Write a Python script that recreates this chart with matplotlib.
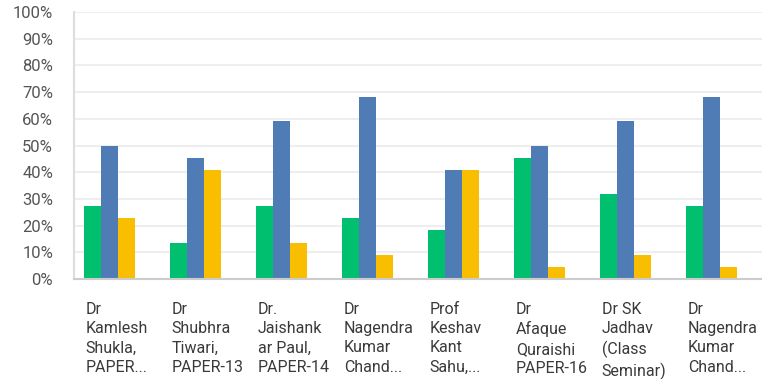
import numpy as np
import matplotlib.pyplot as plt
import matplotlib.transforms as mtransforms

plt.rcParams['font.family'] = ['Roboto', 'DejaVu Sans']

# teacher / session labels (wrapped as shown on the axis)
labels = [
    "Dr\nKamlesh\nShukla,\nPAPER...",
    "Dr\nShubhra\nTiwari,\nPAPER-13",
    "Dr.\nJaishank\nar Paul,\nPAPER-14",
    "Dr\nNagendra\nKumar\nChand...",
    "Prof\nKeshav\nKant\nSahu,...",
    "Dr\nAfaque\nQuraishi\nPAPER-16",
    "Dr SK\nJadhav\n(Class\nSeminar)",
    "Dr\nNagendra\nKumar\nChand...",
]

# response shares in percent (22 respondents each)
green_vals = [27.27, 13.64, 27.27, 22.73, 18.18, 45.45, 31.82, 27.27]
blue_vals = [50.00, 45.45, 59.09, 68.18, 40.91, 50.00, 59.09, 68.18]
yellow_vals = [22.73, 40.91, 13.64, 9.09, 40.91, 4.55, 9.09, 4.55]

colors = ['#00BF6F', '#507CB6', '#F9BE00']

fig = plt.figure(figsize=(7.62, 3.79), dpi=100)
ax = fig.add_axes([74 / 762, 100 / 379, 688 / 762, 267 / 379])

x = np.arange(len(labels))
w = 0.198
for off, vals, c in zip([-w, 0, w], [green_vals, blue_vals, yellow_vals], colors):
    ax.bar(x + off, vals, width=w, color=c, zorder=3, linewidth=0)

ax.set_xlim(-0.413, 7.587)
ax.set_ylim(0, 100)
ax.set_yticks(np.arange(0, 101, 10))
ax.set_yticklabels([f"{v}%" for v in range(0, 101, 10)])
ax.tick_params(axis='y', length=0, pad=15, labelsize=12, labelcolor='#555555')
ax.set_xticks([])

ax.grid(axis='y', color='#EEEEEE', linewidth=1.5, zorder=0)
for s in ['top', 'right']:
    ax.spines[s].set_visible(False)
ax.spines['left'].set_color('#DDDDDD')
ax.spines['left'].set_linewidth(1.5)
ax.spines['bottom'].set_color('#CCCCCC')
ax.spines['bottom'].set_linewidth(1.5)
ax.spines['bottom'].set_zorder(4)

trans = mtransforms.blended_transform_factory(ax.transData, ax.transAxes)
for i, lab in enumerate(labels):
    ax.text(i - 1.5 * w + 0.02, -0.085, lab, transform=trans, ha='left', va='top',
            fontsize=11.5, color='#3a3a3a', linespacing=1.36)

fig.savefig('out.png', dpi=100)
